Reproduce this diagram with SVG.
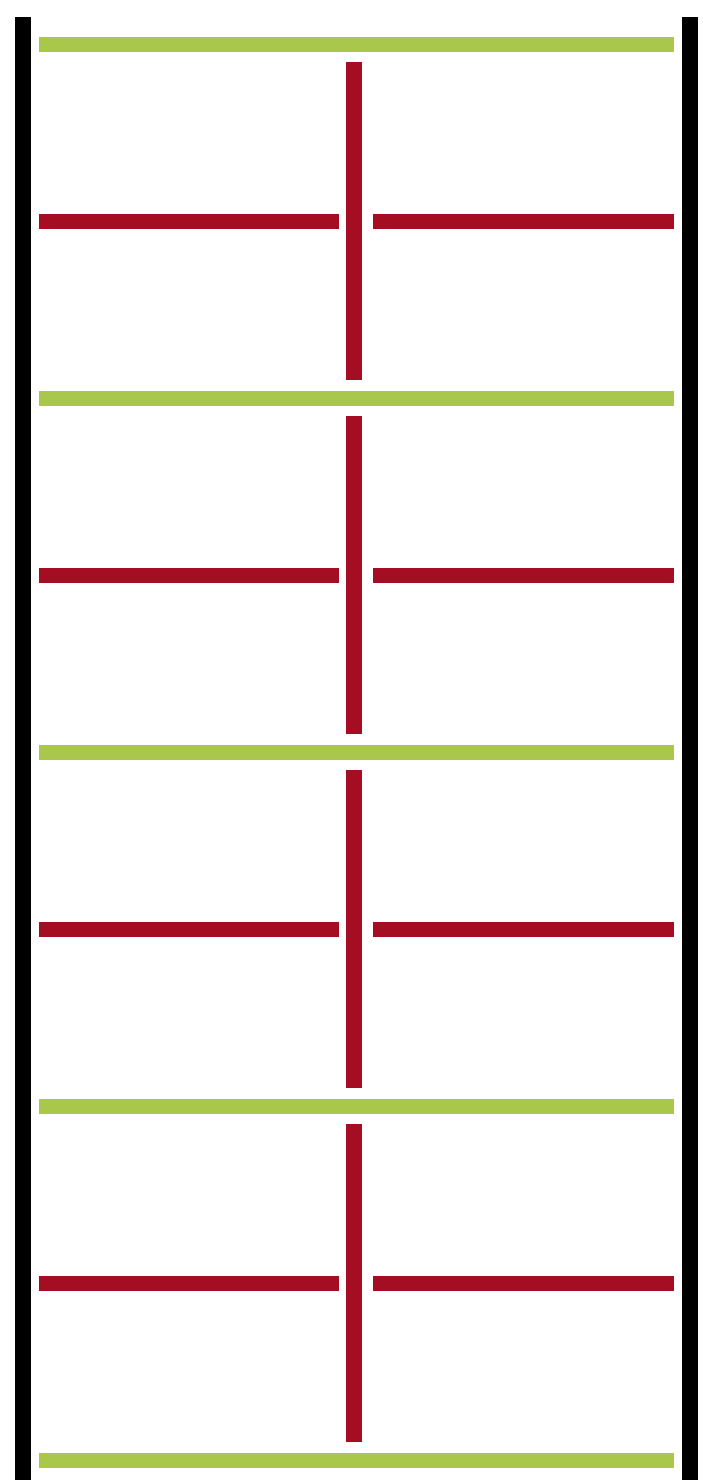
<svg xmlns="http://www.w3.org/2000/svg" width="703" height="1480" viewBox="0 0 703 1480">
<style>
.post{fill:#000}
.g{fill:#a9c84b}
.r{fill:#a50d22}
</style>
<rect width="703" height="1480" fill="#fff"/>
<g id="posts">
<rect class="post" x="15" y="17" width="16" height="1463"/>
<rect class="post" x="682" y="17" width="16" height="1463"/>
</g>
<g id="green">
<rect class="g" x="39" y="37" width="635" height="15"/>
<rect class="g" x="39" y="391" width="635" height="15"/>
<rect class="g" x="39" y="745" width="635" height="15"/>
<rect class="g" x="39" y="1099" width="635" height="15"/>
<rect class="g" x="39" y="1453" width="635" height="15"/>
</g>
<g id="red">
<rect class="r" x="346" y="62" width="16" height="318"/>
<rect class="r" x="39" y="214" width="300" height="15"/>
<rect class="r" x="373" y="214" width="301" height="15"/>
<rect class="r" x="346" y="416" width="16" height="318"/>
<rect class="r" x="39" y="568" width="300" height="15"/>
<rect class="r" x="373" y="568" width="301" height="15"/>
<rect class="r" x="346" y="770" width="16" height="318"/>
<rect class="r" x="39" y="922" width="300" height="15"/>
<rect class="r" x="373" y="922" width="301" height="15"/>
<rect class="r" x="346" y="1124" width="16" height="318"/>
<rect class="r" x="39" y="1276" width="300" height="15"/>
<rect class="r" x="373" y="1276" width="301" height="15"/>
</g>
</svg>
